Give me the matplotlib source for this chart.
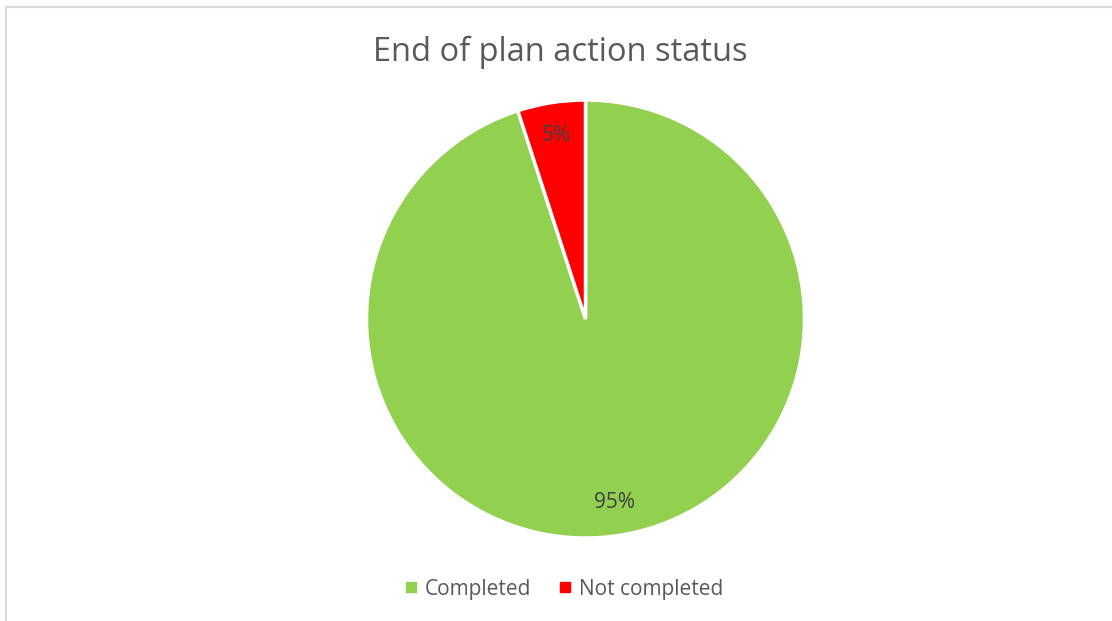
import matplotlib
matplotlib.use('Agg')
import matplotlib.pyplot as plt
from matplotlib.lines import Line2D
from matplotlib.patches import Rectangle

labels = ['Completed', 'Not completed']
values = [95, 5]
colors = ['#92d050', '#ff0000']

plt.rcParams['font.family'] = ['Open Sans', 'DejaVu Sans']
W, H = 1112, 621
fig = plt.figure(figsize=(W / 100, H / 100), dpi=100)

# outer chart border (light grey, runs off the right and bottom edges)
fig.patches.append(Rectangle((5.5 / W, -0.1), 1.2, 1 - 6.5 / H + 0.1,
                             transform=fig.transFigure, fill=False,
                             edgecolor='#d9d9d9', linewidth=1.5))

cx, cy, r = 585.5, 319, 219
ax = fig.add_axes([(cx - r) / W, (H - cy - r) / H, 2 * r / W, 2 * r / H])
wedges, texts, autotexts = ax.pie(
    values, colors=colors, startangle=90, counterclock=False,
    autopct='%d%%', pctdistance=0.85,
    wedgeprops=dict(edgecolor='white', linewidth=2.5),
    textprops=dict(color='#404040', fontsize=15))
ax.set_xlim(-1, 1)
ax.set_ylim(-1, 1)
ax.set_aspect('equal')
ax.axis('off')

fig.text(560 / W, 1 - 52 / H, 'End of plan action status', ha='center', va='center',
         fontsize=23.5, color='#595959')

handles = [Line2D([], [], marker='s', linestyle='none', markersize=7,
                  markerfacecolor=c, markeredgecolor=c) for c in colors]
fig.legend(handles, labels, loc='center', bbox_to_anchor=(563 / W, 1 - 589 / H),
           ncol=2, frameon=False, fontsize=15, labelcolor='#595959',
           handletextpad=0.3, columnspacing=1.2, handlelength=0.8)

fig.savefig('out.png', dpi=100)
